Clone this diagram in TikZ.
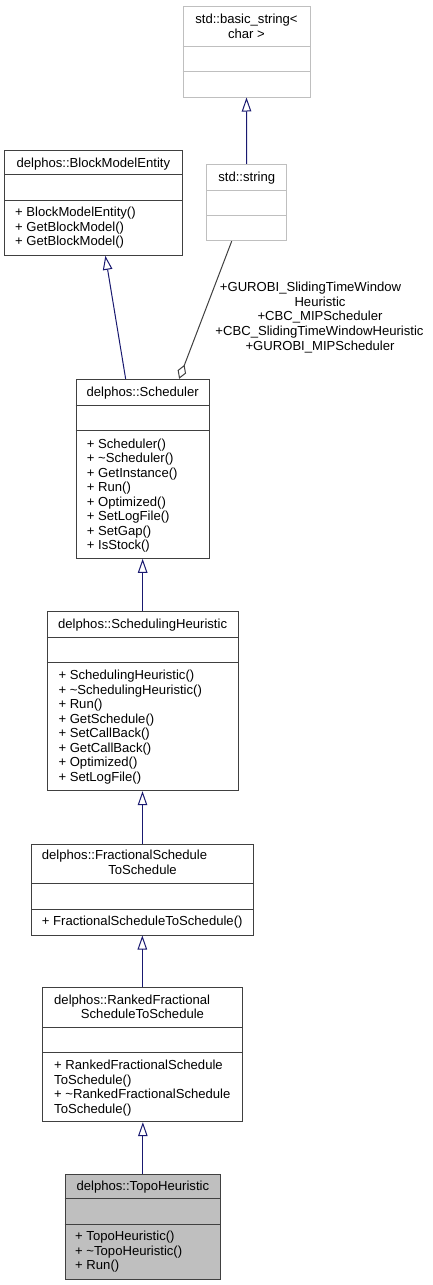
\documentclass[tikz,border=0pt]{standalone}
\usepackage{fontspec}
\setmainfont{Liberation Sans}
\usetikzlibrary{arrows.meta,calc}
\definecolor{navyline}{HTML}{191970}
\definecolor{boxline}{HTML}{404040}
\definecolor{greyline}{HTML}{BFBFBF}
\definecolor{topofill}{HTML}{BFBFBF}
\newcommand\umlfont{\fontsize{13.1pt}{14.5pt}\selectfont}
\begin{document}
\begin{tikzpicture}[x=1pt,y=-1pt,
  cls/.style={draw=boxline, line width=1pt, fill=white, rectangle, inner sep=0pt},
  clsgrey/.style={cls, draw=greyline},
  clscur/.style={cls, fill=topofill},
  divider/.style={draw=boxline, line width=1pt},
  dividergrey/.style={draw=greyline, line width=1pt},
  ttl/.style={font=\umlfont, anchor=base, inner sep=0pt, text=black},
  ttlw/.style={font=\umlfont, anchor=base west, inner sep=0pt, text=black},
  mth/.style={font=\umlfont, anchor=base west, inner sep=0pt, text=black},
  lbl/.style={font=\umlfont, anchor=base, inner sep=0pt, text=black},
  inh/.style={draw=navyline, line width=1pt, -{Triangle[open, length=14pt, width=9.5pt]}},
  agg/.style={draw=boxline, line width=1pt, -{Diamond[open, length=15pt, width=9pt]}}
]
\fill[white] (0,0) rectangle (432,1285);
\useasboundingbox (0,0) rectangle (432,1285);

% std::basic_string< char >
\node[clsgrey, minimum width=127pt, minimum height=90.3pt] (bs) at (246.5,51.85) {};
\draw[dividergrey] (bs.west |- 0,46.7) -- (bs.east |- 0,46.7);
\draw[dividergrey] (bs.west |- 0,71.7) -- (bs.east |- 0,71.7);
\node[ttl] (bs-t1) at (246.5,23.7) {std::basic\_string<};
\node[ttl] (bs-t2) at (246.5,38) {char >};

% std::string
\node[clsgrey, minimum width=80pt, minimum height=76.4pt] (str) at (246.7,202.5) {};
\draw[dividergrey] (str.west |- 0,190) -- (str.east |- 0,190);
\draw[dividergrey] (str.west |- 0,215) -- (str.east |- 0,215);
\node[ttl] (str-t) at (246.7,181.4) {std::string};

% delphos::BlockModelEntity
\node[cls, minimum width=177.3pt, minimum height=105.3pt] (bme) at (93.35,202.65) {};
\draw[divider] (bme.west |- 0,174.7) -- (bme.east |- 0,174.7);
\draw[divider] (bme.west |- 0,200.7) -- (bme.east |- 0,200.7);
\node[ttl] (bme-t) at (93.35,167) {delphos::BlockModelEntity};
\foreach \t [count=\i] in {+ BlockModelEntity(), + GetBlockModel(), + GetBlockModel()}
  \node[mth] (bme-m\i) at (15,{216.7+14.5*(\i-1)}) {\t};

% delphos::Scheduler
\node[cls, minimum width=133.3pt, minimum height=179pt] (sch) at (142.65,468.8) {};
\draw[divider] (sch.west |- 0,405.7) -- (sch.east |- 0,405.7);
\draw[divider] (sch.west |- 0,430.3) -- (sch.east |- 0,430.3);
\node[ttl] (sch-t) at (142.65,396.4) {delphos::Scheduler};
\foreach \t [count=\i] in {+ Scheduler(), + \textasciitilde Scheduler(), + GetInstance(), + Run(), + Optimized(), + SetLogFile(), + SetGap(), + IsStock()}
  \node[mth] (sch-m\i) at (86.7,{448+14.5*(\i-1)}) {\t};

% delphos::SchedulingHeuristic
\node[cls, minimum width=190.7pt, minimum height=179pt] (heu) at (142.65,701.2) {};
\draw[divider] (heu.west |- 0,637.3) -- (heu.east |- 0,637.3);
\draw[divider] (heu.west |- 0,662.7) -- (heu.east |- 0,662.7);
\node[ttl] (heu-t) at (142.65,628) {delphos::SchedulingHeuristic};
\foreach \t [count=\i] in {+ SchedulingHeuristic(), + \textasciitilde SchedulingHeuristic(), + Run(), + GetSchedule(), + SetCallBack(), + GetCallBack(), + Optimized(), + SetLogFile()}
  \node[mth] (heu-m\i) at (58.3,{679.7+14.5*(\i-1)}) {\t};

% delphos::FractionalScheduleToSchedule
\node[cls, minimum width=221.6pt, minimum height=91pt] (fra) at (142.5,889.5) {};
\draw[divider] (fra.west |- 0,883.3) -- (fra.east |- 0,883.3);
\draw[divider] (fra.west |- 0,909.3) -- (fra.east |- 0,909.3);
\node[ttlw] (fra-t1) at (41.7,859.7) {delphos::FractionalSchedule};
\node[ttl] (fra-t2) at (142.5,874.3) {ToSchedule};
\node[mth] (fra-m1) at (41.7,925.7) {+ FractionalScheduleToSchedule()};

% delphos::RankedFractionalScheduleToSchedule
\node[cls, minimum width=199.3pt, minimum height=134.4pt] (rnk) at (142.35,1054.5) {};
\draw[divider] (rnk.west |- 0,1027.3) -- (rnk.east |- 0,1027.3);
\draw[divider] (rnk.west |- 0,1052.7) -- (rnk.east |- 0,1052.7);
\node[ttlw] (rnk-t1) at (54,1004) {delphos::RankedFractional};
\node[ttl] (rnk-t2) at (142.5,1018) {ScheduleToSchedule};
\foreach \t [count=\i] in {+ RankedFractionalSchedule, ToSchedule(), + \textasciitilde RankedFractionalSchedule, ToSchedule()}
  \node[mth] (rnk-m\i) at (54,{1069.7+14.5*(\i-1)}) {\t};

% delphos::TopoHeuristic
\node[clscur, minimum width=155.7pt, minimum height=105pt] (top) at (142.85,1226.5) {};
\draw[divider] (top.west |- 0,1198.7) -- (top.east |- 0,1198.7);
\draw[divider] (top.west |- 0,1224.7) -- (top.east |- 0,1224.7);
\node[ttl] (top-t) at (142.85,1190.7) {delphos::TopoHeuristic};
\foreach \t [count=\i] in {+ TopoHeuristic(), + \textasciitilde TopoHeuristic(), + Run()}
  \node[mth] (top-m\i) at (75,{1240.7+14.5*(\i-1)}) {\t};

% connectors
\draw[inh] (str.north) -- (bs.south);
\draw[inh] ([xshift=-17pt]sch.north) -- ([xshift=12pt]bme.south);
\draw[agg] ([xshift=-15pt]str.south) -- ([xshift=36.5pt]sch.north);
\draw[inh] (heu.north) -- (sch.south);
\draw[inh] (fra.north) -- (fra.north |- heu.south);
\draw[inh] (rnk.north) -- (rnk.north |- fra.south);
\draw[inh] (top.north) -- (top.north |- rnk.south);

% aggregation label
\node[lbl] (agg-l1) at (310.5,291.4) {+GUROBI\_SlidingTimeWindow};
\node[lbl] (agg-l2) at (320,306.4) {Heuristic};
\node[lbl] (agg-l3) at (320,320.4) {+CBC\_MIPScheduler};
\node[lbl] (agg-l4) at (319.5,335.7) {+CBC\_SlidingTimeWindowHeuristic};
\node[lbl] (agg-l5) at (320,350.4) {+GUROBI\_MIPScheduler};
\end{tikzpicture}
\end{document}
